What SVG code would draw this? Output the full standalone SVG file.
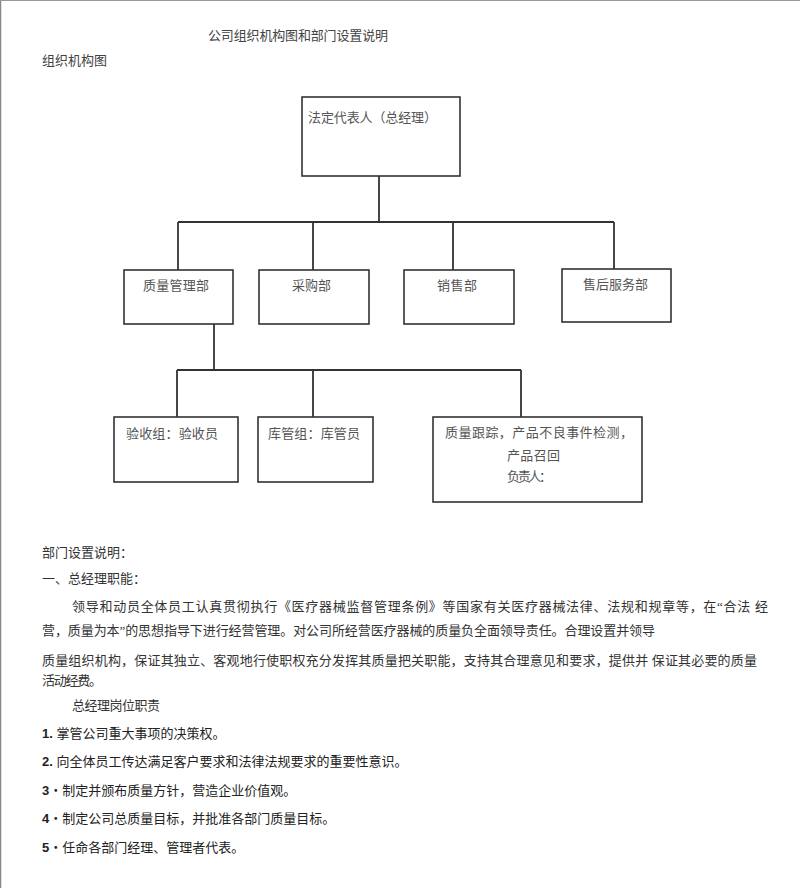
<svg xmlns="http://www.w3.org/2000/svg" width="800" height="888" viewBox="0 0 800 888">
<style>
text{font-family:"Liberation Serif","Noto Sans CJK SC",serif;font-size:13px;fill:#444}
.node rect{fill:#fff;stroke:#333;stroke-width:1.6}
.node text{fill:#555}
.body{fill:#333}
.num{font-family:"Liberation Sans","Noto Sans CJK SC",sans-serif;fill:#222}
#connectors path{fill:none;stroke:#333;stroke-width:1.8}
</style>
<rect x="0" y="0" width="800" height="888" fill="#fff"/>
<line x1="0.5" y1="0" x2="0.5" y2="888" stroke="#888" stroke-width="1.5"/>
<line x1="0" y1="0.5" x2="800" y2="0.5" stroke="#999" stroke-width="1"/>

<text x="208" y="40" textLength="180">公司组织机构图和部门设置说明</text>
<text x="42" y="65" textLength="65">组织机构图</text>

<g id="connectors">
<path d="M379 176 V222 M178 222 H614 M178 222 V270 M313 222 V270 M453 222 V270 M614 222 V269"/>
<path d="M214 324 V370 M177 370 H521 M177 370 V417 M313 370 V417 M521 370 V417"/>
</g>

<g id="n-legal" class="node">
<rect x="302" y="97" width="158" height="79"/>
<text x="308" y="122" textLength="129">法定代表人（总经理）</text>
</g>
<g id="n-quality" class="node">
<rect x="124" y="270" width="109" height="54"/>
<text x="143" y="290" textLength="66">质量管理部</text>
</g>
<g id="n-purchase" class="node">
<rect x="259" y="270" width="110" height="54"/>
<text x="292" y="290" textLength="39">采购部</text>
</g>
<g id="n-sales" class="node">
<rect x="404" y="270" width="110" height="54"/>
<text x="437" y="290" textLength="40">销售部</text>
</g>
<g id="n-aftersales" class="node">
<rect x="562" y="269" width="109" height="53"/>
<text x="583" y="289" textLength="65">售后服务部</text>
</g>
<g id="n-inspect" class="node">
<rect x="114" y="417" width="124" height="65"/>
<text x="126" y="438" textLength="92">验收组：验收员</text>
</g>
<g id="n-store" class="node">
<rect x="258" y="417" width="115" height="65"/>
<text x="268" y="438" textLength="92">库管组：库管员</text>
</g>
<g id="n-track" class="node">
<rect x="433" y="417" width="209" height="85"/>
<text x="445" y="437" textLength="188">质量跟踪，产品不良事件检测，</text>
<text x="507" y="460" textLength="53">产品召回</text>
<text x="507" y="481" textLength="45">负责人：</text>
</g>

<g id="body" class="body">
<text class="body" x="42" y="557">部门设置说明：</text>
<text class="body" x="42" y="583">一、总经理职能：</text>
<text class="body" x="72" y="611" textLength="696">领导和动员全体员工认真贯彻执行《医疗器械监督管理条例》等国家有关医疗器械法律、法规和规章等，在“合法 经</text>
<text class="body" x="42" y="635" textLength="613">营，质量为本”的思想指导下进行经营管理。对公司所经营医疗器械的质量负全面领导责任。合理设置并领导</text>
<text class="body" x="42" y="665" textLength="715">质量组织机构，保证其独立、客观地行使职权充分发挥其质量把关职能，支持其合理意见和要求，提供并 保证其必要的质量</text>
<text class="body" x="42" y="685" textLength="60">活动经费。</text>
<text class="body" x="72" y="710" textLength="88">总经理岗位职责</text>
<text class="num" x="42" y="738"><tspan font-weight="bold">1.</tspan> 掌管公司重大事项的决策权。</text>
<text class="num" x="42" y="766"><tspan font-weight="bold">2.</tspan> 向全体员工传达满足客户要求和法律法规要求的重要性意识。</text>
<text class="num" x="42" y="795"><tspan font-weight="bold">3</tspan>・制定并颁布质量方针，营造企业价值观。</text>
<text class="num" x="42" y="823"><tspan font-weight="bold">4</tspan>・制定公司总质量目标，并批准各部门质量目标。</text>
<text class="num" x="42" y="852"><tspan font-weight="bold">5</tspan>・任命各部门经理、管理者代表。</text>
</g>
</svg>
